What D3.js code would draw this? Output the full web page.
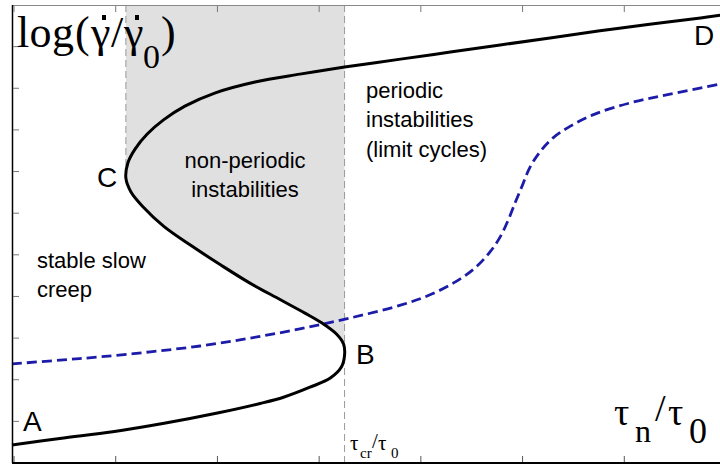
<!DOCTYPE html>
<html>
<head>
<meta charset="utf-8">
<script src="https://cdn.jsdelivr.net/npm/d3@7"></script>
<style>
  body { margin: 0; background: #fff; }
  svg { display: block; }
</style>
</head>
<body>
<svg width="720" height="464"></svg>
<script>
// S-shaped steady-state curve (tau_n/tau_0, log rate)
const sCurveTau = [-0.02, 0.45, 0.97, 1.49, 2.00, 2.42, 2.65, 2.91, 3.11, 3.22, 3.25,
  3.24, 3.17, 3.03, 2.86, 2.62, 2.32, 2.03, 1.73, 1.47, 1.27, 1.15, 1.10,
  1.12, 1.19, 1.31, 1.47, 1.68, 1.98, 2.37, 2.81, 3.25, 3.80, 4.29, 4.78, 5.27, 5.76, 6.25, 6.75, 6.96];
const sCurveLog = [0.43, 0.59, 0.75, 0.96, 1.20, 1.43, 1.58, 1.82, 2.04, 2.31, 2.59,
  2.86, 3.10, 3.36, 3.60, 3.92, 4.32, 4.76, 5.24, 5.69, 6.15, 6.51, 6.84,
  7.21, 7.54, 7.90, 8.24, 8.57, 8.89, 9.15, 9.34, 9.51, 9.70, 9.87, 10.04, 10.21, 10.38, 10.54, 10.69, 10.76];

// dashed blue curve
const dashTau = [-0.02, 0.45, 0.85, 1.34, 1.83, 2.32, 2.81, 3.30, 3.80, 4.09, 4.34, 4.53,
  4.68, 4.78, 4.86, 4.93, 5.00, 5.07, 5.17, 5.30, 5.47, 5.71, 6.06, 6.45, 6.94];
const dashLog = [2.38, 2.47, 2.55, 2.67, 2.81, 3.00, 3.22, 3.48, 3.79, 4.04, 4.35, 4.68,
  5.07, 5.43, 5.84, 6.27, 6.68, 7.09, 7.47, 7.81, 8.09, 8.38, 8.65, 8.86, 9.10];

// turning point C and critical stress
const tauC = 1.10;
const tauCr = 3.25;
const logC = 6.84;

const xTicks = [0, 1, 2, 3, 4, 5, 6];
const yTicks = [1, 2, 3, 4, 5, 6, 7, 8, 9, 10];

const svg = d3.select('svg');
const x = d3.scaleLinear().domain([0, 7]).range([14, 726]);
const y = d3.scaleLinear().domain([0, 11]).range([463, 5]);

const sPts = sCurveTau.map((t, i) => [t, sCurveLog[i]]);
const dPts = dashTau.map((t, i) => [t, dashLog[i]]);

const line = d3.line()
  .x(d => x(d[0]))
  .y(d => y(d[1]))
  .curve(d3.curveCatmullRom.alpha(0.5));

// shaded region: between tauC and tauCr, above the middle branch
const middle = sPts.filter((d, i) => i >= 10 && i <= 22);
const shade = line(middle) +
  `L${x(tauC)},${y(11)}L${x(tauCr)},${y(11)}Z`;
svg.append('path')
  .attr('d', shade)
  .attr('fill', '#e0e0e0');

// thin grey dashed verticals
svg.append('line')
  .attr('x1', x(tauC)).attr('x2', x(tauC))
  .attr('y1', y(11)).attr('y2', y(logC))
  .attr('stroke', '#999').attr('stroke-width', 1)
  .attr('stroke-dasharray', '7,4');
svg.append('line')
  .attr('x1', x(tauCr)).attr('x2', x(tauCr))
  .attr('y1', y(11)).attr('y2', y(0))
  .attr('stroke', '#999').attr('stroke-width', 1)
  .attr('stroke-dasharray', '7,4');

svg.append('path')
  .attr('d', line(dPts))
  .attr('fill', 'none')
  .attr('stroke', '#1c1ca8')
  .attr('stroke-width', 2.8)
  .attr('stroke-dasharray', '10,5');

svg.append('path')
  .attr('d', line(sPts))
  .attr('fill', 'none')
  .attr('stroke', '#000')
  .attr('stroke-width', 3);

// frame
svg.append('line').attr('x1', 12).attr('x2', 720).attr('y1', 5.5).attr('y2', 5.5)
  .attr('stroke', '#888').attr('stroke-width', 1);
svg.append('line').attr('x1', 12.5).attr('x2', 12.5).attr('y1', 5).attr('y2', 463)
  .attr('stroke', '#000').attr('stroke-width', 1.5);
svg.append('line').attr('x1', 12).attr('x2', 720).attr('y1', 463).attr('y2', 463)
  .attr('stroke', '#000').attr('stroke-width', 2);

svg.selectAll('.xb').data(xTicks).enter().append('line')
  .attr('x1', d => x(d)).attr('x2', d => x(d))
  .attr('y1', 462).attr('y2', 456)
  .attr('stroke', '#555').attr('stroke-width', 1);
svg.selectAll('.xt').data(xTicks).enter().append('line')
  .attr('x1', d => x(d)).attr('x2', d => x(d))
  .attr('y1', 6).attr('y2', 12)
  .attr('stroke', '#777').attr('stroke-width', 1);
svg.selectAll('.yl').data(yTicks).enter().append('line')
  .attr('x1', 13).attr('x2', 19)
  .attr('y1', d => y(d)).attr('y2', d => y(d))
  .attr('stroke', '#777').attr('stroke-width', 1);

// serif math labels, one text element each, glyphs placed by tspans
const serif = '"Liberation Serif", "Times New Roman", serif';
function mathLabel(parts) {
  const t = svg.append('text')
    .attr('font-family', serif)
    .attr('fill', '#000');
  parts.forEach(p => {
    t.append('tspan')
      .attr('x', p[1]).attr('y', p[2])
      .attr('font-size', p[3])
      .text(p[0]);
  });
}
mathLabel([
  ['l', 17, 47, 44], ['o', 29.5, 47, 44], ['g', 52, 47, 44], ['(', 75, 47, 44],
  ['γ', 91, 47, 44], ['/', 111, 47, 44], ['γ', 124, 47, 44],
  ['0', 143, 68, 34], [')', 161, 47, 44]
]);
// dots over gamma
svg.append('rect').attr('x', 102).attr('y', 15).attr('width', 4).attr('height', 5).attr('fill', '#000');
svg.append('rect').attr('x', 135).attr('y', 15).attr('width', 4).attr('height', 5).attr('fill', '#000');

mathLabel([
  ['τ', 614, 425, 38], ['n', 635, 442, 32], ['/', 655, 421, 38],
  ['τ', 668, 425, 38], ['0', 689, 443, 36]
]);
mathLabel([
  ['τ', 350, 450, 21], ['cr', 360, 458, 15], ['/', 372, 448, 21],
  ['τ', 378, 450, 21], ['0', 391, 458, 15]
]);

// sans labels
const sans = '"Liberation Sans", Arial, sans-serif';
const notes = [
  ['A', 23, 431, 28, 'start'],
  ['B', 356, 364, 28, 'start'],
  ['C', 97, 187, 28, 'start'],
  ['D', 694, 45, 28, 'start'],
  ['stable slow', 37, 268, 22, 'start'],
  ['creep', 37, 297, 22, 'start'],
  ['non-periodic', 245, 168, 22, 'middle'],
  ['instabilities', 245, 197, 22, 'middle'],
  ['periodic', 366, 98, 22, 'start'],
  ['instabilities', 366, 127, 22, 'start'],
  ['(limit cycles)', 366, 157, 22, 'start']
];
svg.selectAll('.note').data(notes).enter().append('text')
  .attr('x', d => d[1]).attr('y', d => d[2])
  .attr('font-size', d => d[3])
  .attr('text-anchor', d => d[4])
  .attr('font-family', sans)
  .attr('fill', '#000')
  .text(d => d[0]);
</script>
</body>
</html>
